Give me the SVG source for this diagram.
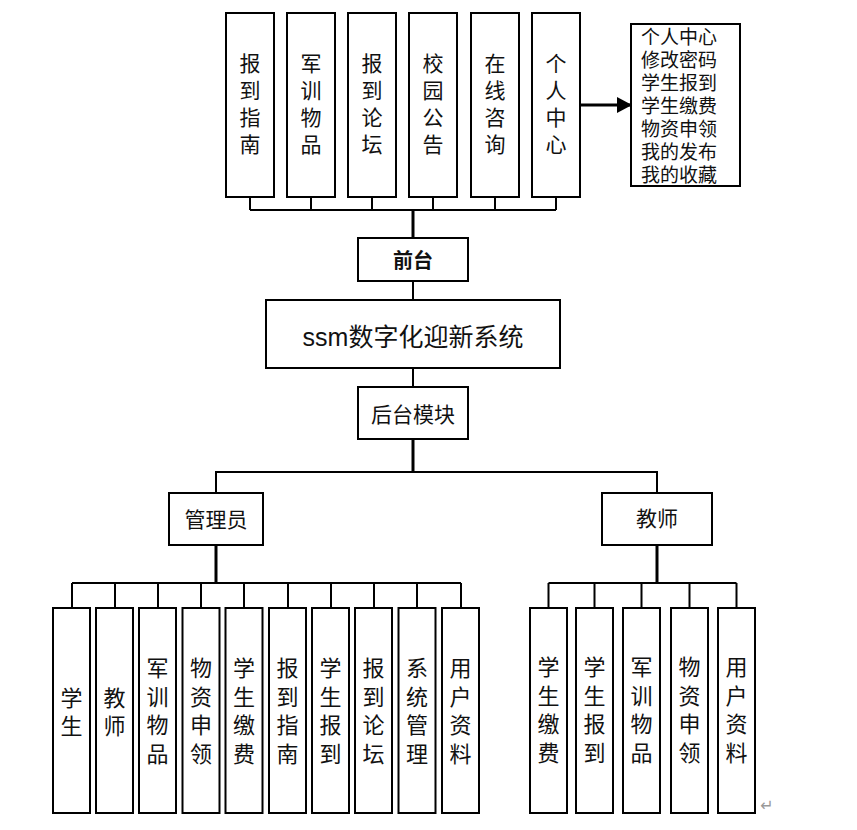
<svg xmlns="http://www.w3.org/2000/svg" width="857" height="830" viewBox="0 0 857 830">
<style>
rect{fill:#fff;stroke:#000;stroke-width:2}
text{font-family:"Liberation Sans","Noto Sans CJK SC",sans-serif;fill:#111;text-anchor:middle;dominant-baseline:central}
.v{font-size:21px}
.b{font-size:22px}
.h{font-size:21px}
.l{font-size:19px;text-anchor:start;font-family:"Liberation Serif","Noto Sans CJK SC",serif}
#connectors line,#connectors path{stroke:#000;stroke-width:2;fill:none}
#connectors .t{stroke-width:3}
</style>
<defs>
<marker id="ah" markerWidth="16" markerHeight="16" refX="14" refY="8" orient="auto" markerUnits="userSpaceOnUse">
<path d="M0,0 L15,8 L0,16 Z" fill="#000"/>
</marker>
</defs>
<rect x="0" y="0" width="857" height="830" style="fill:#fff;stroke:none"/>

<g id="connectors">
<path d="M250,197V210M311,197V210M372,197V210M433,197V210M495,197V210M556,197V210M250,210H556"/>
<line class="t" x1="413" y1="210" x2="413" y2="238"/>
<line x1="413" y1="281" x2="413" y2="300"/>
<line x1="413" y1="368" x2="413" y2="387"/>
<line class="t" x1="413" y1="439" x2="413" y2="472"/>
<path d="M216,493V472H657V493"/>
<line class="t" x1="216" y1="545" x2="216" y2="583"/>
<path d="M72,583H461M72,583V608M115,583V608M158,583V608M201,583V608M244,583V608M288,583V608M331,583V608M374,583V608M417,583V608M461,583V608"/>
<line class="t" x1="657" y1="545" x2="657" y2="583"/>
<path d="M548.5,583H736.5M548.5,583V608M594.5,583V608M641.5,583V608M689.5,583V608M736.5,583V608"/>
<line class="t" x1="580" y1="105" x2="631" y2="105" marker-end="url(#ah)"/>
</g>

<g id="top1"><rect x="226" y="13" width="48" height="184"/><text class="v" x="250"><tspan x="250" y="63">报</tspan><tspan x="250" y="90">到</tspan><tspan x="250" y="117">指</tspan><tspan x="250" y="144">南</tspan></text></g>
<g id="top2"><rect x="287" y="13" width="48" height="184"/><text class="v" x="311"><tspan x="311" y="63">军</tspan><tspan x="311" y="90">训</tspan><tspan x="311" y="117">物</tspan><tspan x="311" y="144">品</tspan></text></g>
<g id="top3"><rect x="348" y="13" width="48" height="184"/><text class="v" x="372"><tspan x="372" y="63">报</tspan><tspan x="372" y="90">到</tspan><tspan x="372" y="117">论</tspan><tspan x="372" y="144">坛</tspan></text></g>
<g id="top4"><rect x="409" y="13" width="48" height="184"/><text class="v" x="433"><tspan x="433" y="63">校</tspan><tspan x="433" y="90">园</tspan><tspan x="433" y="117">公</tspan><tspan x="433" y="144">告</tspan></text></g>
<g id="top5"><rect x="471" y="13" width="48" height="184"/><text class="v" x="495"><tspan x="495" y="63">在</tspan><tspan x="495" y="90">线</tspan><tspan x="495" y="117">咨</tspan><tspan x="495" y="144">询</tspan></text></g>
<g id="top6"><rect x="532" y="13" width="48" height="184"/><text class="v" x="556"><tspan x="556" y="63">个</tspan><tspan x="556" y="90">人</tspan><tspan x="556" y="117">中</tspan><tspan x="556" y="144">心</tspan></text></g>

<g id="personal-list"><rect x="631" y="24" width="109" height="162"/>
<text class="l"><tspan x="641" y="37">个人中心</tspan><tspan x="641" y="60">修改密码</tspan><tspan x="641" y="83">学生报到</tspan><tspan x="641" y="106">学生缴费</tspan><tspan x="641" y="129">物资申领</tspan><tspan x="641" y="152">我的发布</tspan><tspan x="641" y="175">我的收藏</tspan></text></g>

<g id="frontend"><rect x="358" y="238" width="110" height="43"/><text x="413" y="261" style="font-size:20px;font-weight:bold">前台</text></g>
<g id="system"><rect x="266" y="300" width="294" height="68"/><text x="413" y="337" style="font-size:25px">ssm数字化迎新系统</text></g>
<g id="backend"><rect x="358" y="387" width="110" height="52"/><text class="h" x="413" y="414">后台模块</text></g>
<g id="admin"><rect x="169" y="493" width="94" height="52"/><text class="h" x="216" y="519">管理员</text></g>
<g id="teacher"><rect x="602" y="493" width="110" height="52"/><text class="h" x="657" y="518">教师</text></g>

<g id="a1"><rect x="53" y="608" width="37" height="205"/><text class="b"><tspan x="71.5" y="698">学</tspan><tspan x="71.5" y="726">生</tspan></text></g>
<g id="a2"><rect x="96" y="608" width="37" height="205"/><text class="b"><tspan x="114.5" y="698">教</tspan><tspan x="114.5" y="726">师</tspan></text></g>
<g id="a3"><rect x="139" y="608" width="37" height="205"/><text class="b"><tspan x="157.5" y="668">军</tspan><tspan x="157.5" y="697">训</tspan><tspan x="157.5" y="725">物</tspan><tspan x="157.5" y="754">品</tspan></text></g>
<g id="a4"><rect x="182.5" y="608" width="37" height="205"/><text class="b"><tspan x="201" y="668">物</tspan><tspan x="201" y="697">资</tspan><tspan x="201" y="725">申</tspan><tspan x="201" y="754">领</tspan></text></g>
<g id="a5"><rect x="225.5" y="608" width="37" height="205"/><text class="b"><tspan x="244" y="668">学</tspan><tspan x="244" y="697">生</tspan><tspan x="244" y="725">缴</tspan><tspan x="244" y="754">费</tspan></text></g>
<g id="a6"><rect x="269" y="608" width="37" height="205"/><text class="b"><tspan x="287.5" y="668">报</tspan><tspan x="287.5" y="697">到</tspan><tspan x="287.5" y="725">指</tspan><tspan x="287.5" y="754">南</tspan></text></g>
<g id="a7"><rect x="312" y="608" width="37" height="205"/><text class="b"><tspan x="330.5" y="668">学</tspan><tspan x="330.5" y="697">生</tspan><tspan x="330.5" y="725">报</tspan><tspan x="330.5" y="754">到</tspan></text></g>
<g id="a8"><rect x="355" y="608" width="37" height="205"/><text class="b"><tspan x="373.5" y="668">报</tspan><tspan x="373.5" y="697">到</tspan><tspan x="373.5" y="725">论</tspan><tspan x="373.5" y="754">坛</tspan></text></g>
<g id="a9"><rect x="398.5" y="608" width="37" height="205"/><text class="b"><tspan x="417" y="668">系</tspan><tspan x="417" y="697">统</tspan><tspan x="417" y="725">管</tspan><tspan x="417" y="754">理</tspan></text></g>
<g id="a10"><rect x="442" y="608" width="37" height="205"/><text class="b"><tspan x="460.5" y="668">用</tspan><tspan x="460.5" y="697">户</tspan><tspan x="460.5" y="725">资</tspan><tspan x="460.5" y="754">料</tspan></text></g>

<g id="t1"><rect x="530" y="608" width="37" height="205"/><text class="b"><tspan x="548.5" y="667">学</tspan><tspan x="548.5" y="696">生</tspan><tspan x="548.5" y="724">缴</tspan><tspan x="548.5" y="753">费</tspan></text></g>
<g id="t2"><rect x="576" y="608" width="37" height="205"/><text class="b"><tspan x="594.5" y="667">学</tspan><tspan x="594.5" y="696">生</tspan><tspan x="594.5" y="724">报</tspan><tspan x="594.5" y="753">到</tspan></text></g>
<g id="t3"><rect x="623" y="608" width="37" height="205"/><text class="b"><tspan x="641.5" y="667">军</tspan><tspan x="641.5" y="696">训</tspan><tspan x="641.5" y="724">物</tspan><tspan x="641.5" y="753">品</tspan></text></g>
<g id="t4"><rect x="671" y="608" width="37" height="205"/><text class="b"><tspan x="689.5" y="667">物</tspan><tspan x="689.5" y="696">资</tspan><tspan x="689.5" y="724">申</tspan><tspan x="689.5" y="753">领</tspan></text></g>
<g id="t5"><rect x="718" y="608" width="37" height="205"/><text class="b"><tspan x="736.5" y="667">用</tspan><tspan x="736.5" y="696">户</tspan><tspan x="736.5" y="724">资</tspan><tspan x="736.5" y="753">料</tspan></text></g>

<text x="767" y="805" style="font-family:'DejaVu Sans',sans-serif;font-size:16px;fill:#999">↵</text>
</svg>
